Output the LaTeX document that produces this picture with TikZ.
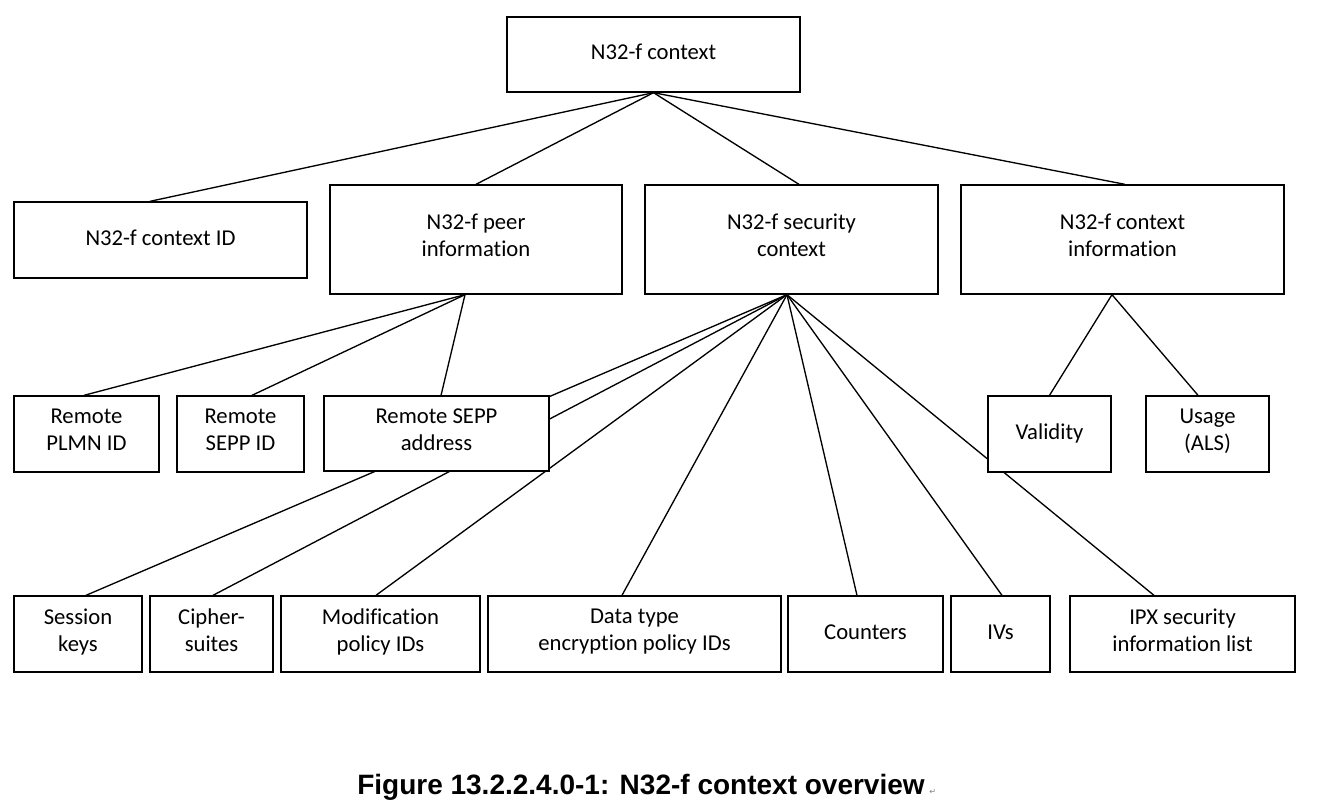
\documentclass[tikz,border=0pt]{standalone}
\usepackage{fontspec}
\setmainfont[Ligatures=CommonOff]{Carlito}
\newfontfamily\capfont{Liberation Sans}
\newfontfamily\markfont{DejaVu Sans}
\usepackage{tikz}
\usetikzlibrary{backgrounds}
\tikzset{
  box/.style={rectangle, draw, fill=white, line width=1pt, align=center, inner sep=0pt, font=\fontsize{17}{20.25}\selectfont, execute at begin node=\strut, execute at end node=\strut},
  boxdim/.style 2 args={minimum width=#1*0.75pt, minimum height=#2*0.75pt},
  link/.style={line width=1pt},
}

\begin{document}
\begin{tikzpicture}[x=0.75pt, y=-0.75pt]
    \useasboundingbox (0,0) rectangle (1319,811);
    \node[box, boxdim={293}{75}] (ctx) at (653.5,54.5) {N32-f context};
    \node[box, boxdim={293}{76}] (ctxid) at (160.5,240) {N32-f context ID};
    \node[box, boxdim={292}{109}] (peer) at (476,239.5) {N32-f peer\\information};
    \node[box, boxdim={293}{109}] (sec) at (791.5,239.5) {N32-f security\\context};
    \node[box, boxdim={323}{109}] (info) at (1122.5,239.5) {N32-f context\\information};
    \node[box, boxdim={145}{76}] (plmn) at (86.5,434) {Remote\\PLMN ID};
    \node[box, boxdim={127}{76}] (seppid) at (240.5,434) {Remote\\SEPP ID};
    \node[box, boxdim={225}{75}] (addr) at (436.5,433.5) {Remote SEPP\\address};
    \node[box, boxdim={123}{76}] (valid) at (1049.5,434) {Validity};
    \node[box, boxdim={123}{76}] (usage) at (1207.5,434) {Usage\\(ALS)};
    \node[box, boxdim={128}{76}] (keys) at (78,634) {Session\\keys};
    \node[box, boxdim={123}{76}] (cipher) at (211.5,634) {Cipher-\\suites};
    \node[box, boxdim={199}{76}] (modif) at (380.5,634) {Modification\\policy IDs};
    \node[box, boxdim={293}{76}] (dtype) at (634.5,634) {Data type\\encryption policy IDs};
    \node[box, boxdim={155}{76}] (count) at (865.5,634) {Counters};
    \node[box, boxdim={99}{76}] (ivs) at (1000.5,634) {IVs};
    \node[box, boxdim={225}{76}] (ipx) at (1182.5,634) {IPX security\\information list};
    \begin{scope}[on background layer]
      \draw[link] (ctx.south) -- ([xshift=-7.9pt]ctxid.north);
      \draw[link] (ctx.south) -- (peer.north);
      \draw[link] (ctx.south) -- ([xshift=5.6pt]sec.north);
      \draw[link] (ctx.south) -- ([xshift=1.9pt]info.north);
      \draw[link] ([xshift=-8.25pt]peer.south) -- ([xshift=-1.9pt]plmn.north);
      \draw[link] ([xshift=-8.25pt]peer.south) -- ([xshift=8.6pt]seppid.north);
      \draw[link] ([xshift=-8.25pt]peer.south) -- ([xshift=3.4pt]addr.north);
      \draw[link] ([xshift=-3.4pt]sec.south) -- ([xshift=6pt]keys.north);
      \draw[link] ([xshift=-3.4pt]sec.south) -- ([xshift=1.1pt]cipher.north);
      \draw[link] ([xshift=-3.4pt]sec.south) -- ([xshift=-3.4pt]modif.north);
      \draw[link] ([xshift=-3.4pt]sec.south) -- ([xshift=-9.4pt]dtype.north);
      \draw[link] ([xshift=-3.4pt]sec.south) -- ([xshift=-6.4pt]count.north);
      \draw[link] ([xshift=-3.4pt]sec.south) -- ([xshift=1.1pt]ivs.north);
      \draw[link] ([xshift=-3.4pt]sec.south) -- ([xshift=-21.4pt]ipx.north);
      \draw[link] ([xshift=-7.9pt]info.south) -- (valid.north);
      \draw[link] ([xshift=-7.9pt]info.south) -- ([xshift=-7.1pt]usage.north);
    \end{scope}
    \node[font=\capfont\bfseries\fontsize{21}{25}\selectfont, inner sep=0pt] (cap) at (641,787) {Figure 13.2.2.4.0-1: N32-f context overview};
    \node[anchor=base west, font=\markfont\fontsize{6}{6}\selectfont, text=gray, inner sep=3pt] (pmark) at (cap.base east) {↵};
  \end{tikzpicture}
\end{document}
